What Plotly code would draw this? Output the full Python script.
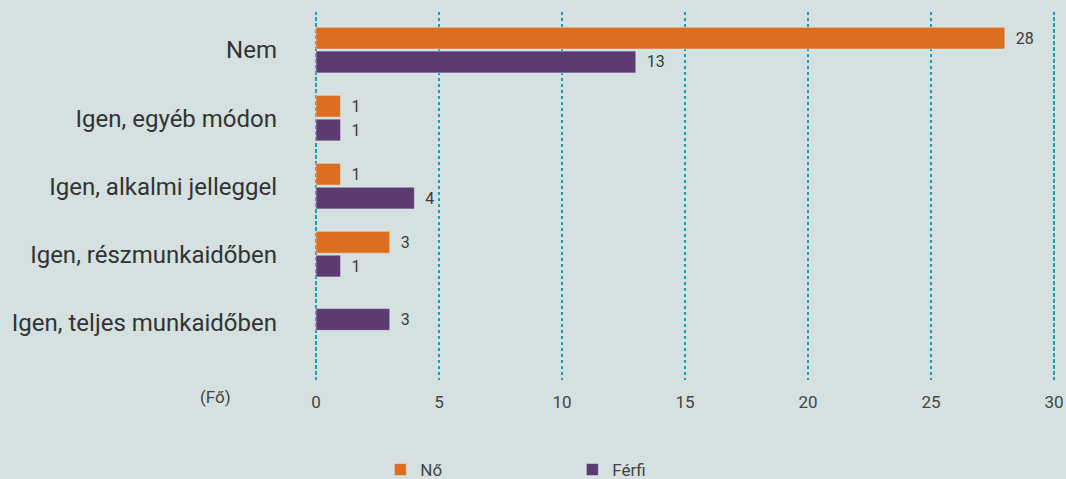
import plotly.graph_objects as go

categories = ["Nem", "Igen, egyéb módon", "Igen, alkalmi jelleggel", "Igen, részmunkaidőben", "Igen, teljes munkaidőben"]
no_values = [28, 1, 1, 3, None]
ferfi_values = [13, 1, 4, 1, 3]
x_ticks = [0, 5, 10, 15, 20, 25, 30]

BG = "#d4e1e0"
ORANGE = "#dc6f1f"
PURPLE = "#5c3b71"
GRID = "#1a9fb5"
FONT = "Roboto"
PAD = "\u00a0\u00a0"

pos = list(range(len(categories)))
W = 0.32

no_y = [p for p, v in zip(pos, no_values) if v is not None]
no_x = [v for v in no_values if v is not None]

ferfi_offsets = [(0.015 if nv is not None else -W / 2 - 0.04) for nv in no_values]

fig = go.Figure()
fig.add_trace(go.Bar(
    name="Nő", orientation="h", y=no_y, x=no_x,
    offset=-W - 0.015, width=W, marker_color=ORANGE,
    text=[PAD + str(v) for v in no_x], textposition="outside",
    textfont=dict(size=16, color="#3a3a3a", family=FONT), cliponaxis=False,
))
fig.add_trace(go.Bar(
    name="Férfi", orientation="h", y=pos, x=ferfi_values,
    offset=ferfi_offsets, width=W, marker_color=PURPLE,
    text=[PAD + str(v) for v in ferfi_values], textposition="outside",
    textfont=dict(size=16, color="#3a3a3a", family=FONT), cliponaxis=False,
))

# dotted gridlines at the axis ends (Plotly skips grid lines on the range edges)
edge_lines = [dict(type="line", xref="x", yref="paper", x0=t, x1=t, y0=0, y1=1,
                   line=dict(color=GRID, width=2, dash="dot"), layer="below")
              for t in (x_ticks[0], x_ticks[-1])]

fig.update_layout(
    width=1066, height=479,
    paper_bgcolor=BG, plot_bgcolor=BG,
    margin=dict(l=314, r=10, t=12, b=99, autoexpand=False),
    barmode="overlay",
    font=dict(family=FONT, color="#444"),
    showlegend=True,
    legend=dict(orientation="h", x=(382 - 316) / 738, y=(479 - 470) / 479,
                xanchor="left", yanchor="middle", yref="container",
                font=dict(size=17, color="#444", family=FONT),
                entrywidth=147, entrywidthmode="pixels", traceorder="normal",
                bgcolor="rgba(0,0,0,0)"),
    xaxis=dict(range=[x_ticks[0] - 0.08, x_ticks[-1] + 0.08], tickvals=x_ticks, showgrid=True,
               gridcolor=GRID, griddash="dot", gridwidth=2, zeroline=False, showline=False,
               ticks="", ticklabelstandoff=10,
               tickfont=dict(size=17, color="#444", family=FONT)),
    yaxis=dict(range=[4.85, -0.56], tickvals=pos, ticktext=categories,
               showgrid=False, zeroline=False, showline=False, ticks="",
               ticklabelstandoff=36,
               tickfont=dict(size=24, color="#333", family=FONT)),
    shapes=edge_lines,
    annotations=[dict(text="(Fő)", x=(218 - 316) / 738, xref="paper",
                      y=(380 - 397) / 368, yref="paper",
                      xanchor="center", yanchor="middle", showarrow=False,
                      font=dict(size=17, color="#444", family=FONT))],
)

fig.write_html("out.html", config={"displayModeBar": False},
               post_script="document.body.style.margin='0';")
